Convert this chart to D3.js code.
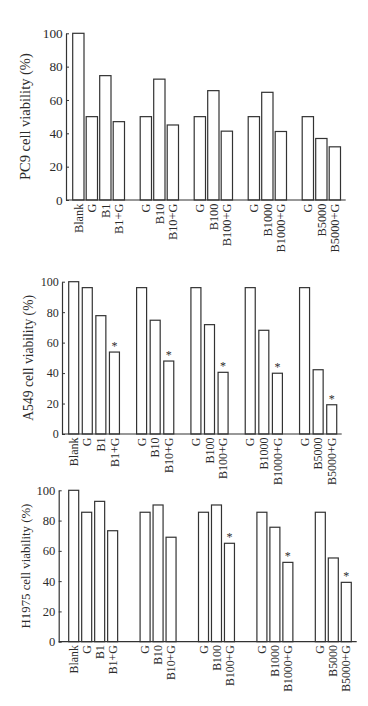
<!DOCTYPE html>
<html>
<head>
<meta charset="utf-8">
<script src="https://cdn.jsdelivr.net/npm/d3@7/dist/d3.min.js"></script>
<style>
  html, body { margin: 0; padding: 0; background: #fff; }
  svg { display: block; }
  text { font-family: "Liberation Serif", "Times New Roman", serif; fill: #2b2b2b; }
</style>
</head>
<body>
<svg id="chart" width="368" height="706"></svg>
<script>
// ---- Data ----
const groups = [
  ["Blank", "G", "B1", "B1+G"],
  ["G", "B10", "B10+G"],
  ["G", "B100", "B100+G"],
  ["G", "B1000", "B1000+G"],
  ["G", "B5000", "B5000+G"]
];
const categories = groups.flat();
const yTicks = [0, 20, 40, 60, 80, 100];

const pc9Values   = [100, 50, 74.6, 47,   50, 72.5, 45,   50, 65.6, 41.3,  50, 64.6, 41.1,  50, 36.9, 31.9];
const a549Values  = [100, 96.1, 77.7, 53.8,  96.1, 74.7, 47.9,  96.1, 71.8, 40.5,  96.1, 68.1, 39.9,  96.1, 42.2, 19.2];
const h1975Values = [100, 85.5, 92.7, 73.3,  85.5, 90.3, 69.0,  85.5, 90.3, 65.0,  85.5, 75.6, 52.4,  85.5, 55.3, 39.2];

const pc9Sig   = [];
const a549Sig  = ["B1+G", "B10+G", "B100+G", "B1000+G", "B5000+G"];
const h1975Sig = ["B100+G", "B1000+G", "B5000+G"];

const yLabels = ["PC9 cell viability (%)", "A549 cell viability (%)", "H1975 cell viability (%)"];

// ---- Layout per panel ----
const panels = [
  { values: pc9Values, sig: pc9Sig, label: yLabels[0],
    axisX: 66, y0: 200, y100: 33.3, firstLeft: 72.7, barW: 11.3, step: 13.5, gap: 1,
    axisEnd: 345.7, tickFont: 13.3, catFont: 12.4, labFont: 14.5, labX: 25 },
  { values: a549Values, sig: a549Sig, label: yLabels[1],
    axisX: 62, y0: 434, y100: 281.7, firstLeft: 68.7, barW: 10, step: 13.58, gap: 1,
    axisEnd: 341.7, tickFont: 12, catFont: 12, labFont: 13.6, labX: 28 },
  { values: h1975Values, sig: h1975Sig, label: yLabels[2],
    axisX: 58.7, y0: 641.7, y100: 490.3, firstLeft: 68.7, barW: 10, step: 12.98, gap: 1.5,
    axisEnd: 356.7, tickFont: 12.6, catFont: 11.8, labFont: 12.8, labX: 26 }
];

// slot index for every bar (groups separated by an extra gap)
function slotPositions(gap) {
  const pos = [];
  let s = 0;
  groups.forEach((g, gi) => {
    if (gi > 0) s += gap;
    g.forEach(() => { pos.push(s); s += 1; });
  });
  return pos;
}

const svg = d3.select("#chart");

panels.forEach(p => {
  const slots = slotPositions(p.gap);
  const lastSlot = slots[slots.length - 1];
  const x = d3.scaleLinear().domain([0, lastSlot])
    .range([p.firstLeft, p.firstLeft + lastSlot * p.step]);
  const y = d3.scaleLinear().domain([0, 100]).range([p.y0, p.y100]);

  const g = svg.append("g");

  const data = categories.map((c, i) => ({ cat: c, v: p.values[i], slot: slots[i],
    sig: p.sig.includes(c) && c.includes("+G") }));

  // bars
  g.selectAll("rect.bar").data(data).enter().append("rect")
    .attr("class", "bar")
    .attr("x", d => x(d.slot))
    .attr("y", d => y(d.v))
    .attr("width", p.barW)
    .attr("height", d => y(0) - y(d.v))
    .attr("fill", "#fff")
    .attr("stroke", "#333")
    .attr("stroke-width", 1.2);

  // asterisks
  g.selectAll("text.sig").data(data.filter(d => d.sig)).enter().append("text")
    .attr("class", "sig")
    .attr("x", d => x(d.slot) + p.barW / 2)
    .attr("y", d => y(d.v) - 2)
    .attr("text-anchor", "middle")
    .attr("font-size", 12)
    .text("*");

  // y axis
  const yAxis = d3.axisLeft(y).tickValues(yTicks).tickSizeInner(-3).tickSizeOuter(0).tickPadding(3.3);
  const ya = g.append("g").attr("transform", `translate(${p.axisX},0)`).call(yAxis);
  ya.selectAll("path.domain").attr("stroke", "#333").attr("stroke-width", 1.2);
  ya.selectAll(".tick line").attr("stroke", "#333").attr("stroke-width", 1);
  ya.selectAll(".tick text")
    .attr("font-family", "'Liberation Serif', serif")
    .attr("font-size", p.tickFont)
    .attr("fill", "#2b2b2b");

  // x axis line
  g.append("line")
    .attr("x1", p.axisX).attr("x2", p.axisEnd)
    .attr("y1", y(0)).attr("y2", y(0))
    .attr("stroke", "#333").attr("stroke-width", 1.2);

  // category labels (rotated)
  g.selectAll("text.cat").data(data).enter().append("text")
    .attr("class", "cat")
    .attr("transform", d => `translate(${x(d.slot) + p.barW / 2},${y(0) + 3.5}) rotate(-90)`)
    .attr("text-anchor", "end")
    .attr("dy", "0.35em")
    .attr("font-size", p.catFont)
    .text(d => d.cat);

  // y label
  g.append("text")
    .attr("transform", `translate(${p.labX},${(y(0) + y(100)) / 2}) rotate(-90)`)
    .attr("text-anchor", "middle")
    .attr("dy", "0.35em")
    .attr("font-size", p.labFont)
    .text(p.label);
});
</script>
</body>
</html>
